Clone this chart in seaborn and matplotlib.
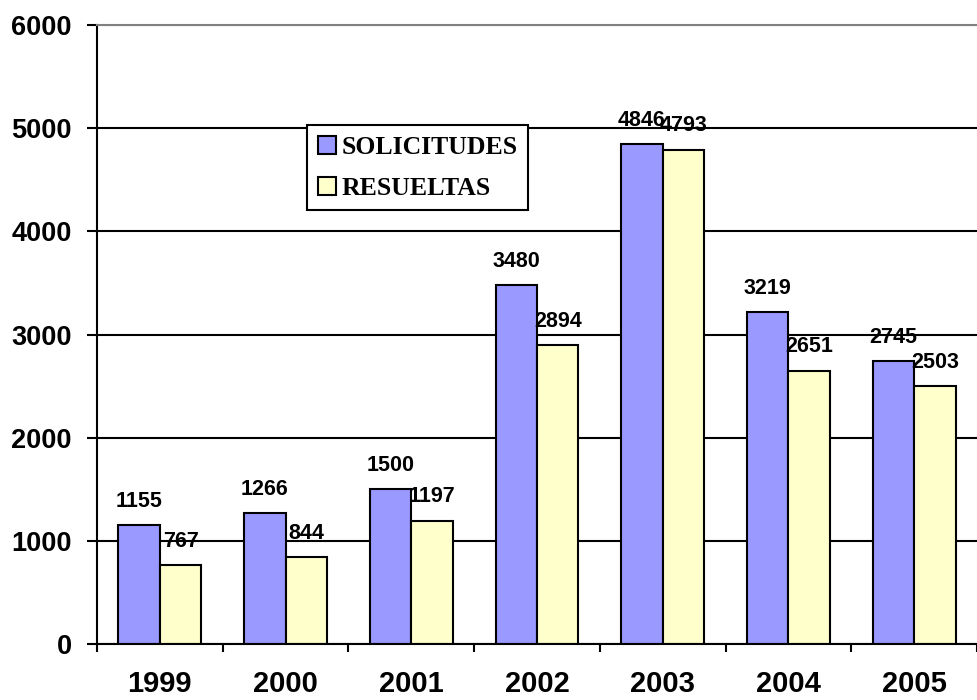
import pandas as pd
import seaborn as sns
import matplotlib
matplotlib.use("Agg")
import matplotlib.pyplot as plt
from matplotlib.font_manager import FontProperties

# datos
anios = ["1999", "2000", "2001", "2002", "2003", "2004", "2005"]
solicitudes = [1155, 1266, 1500, 3480, 4846, 3219, 2745]
resueltas = [767, 844, 1197, 2894, 4793, 2651, 2503]
series = ["SOLICITUDES", "RESUELTAS"]
colores = ["#9999FF", "#FFFFCC"]

df = pd.DataFrame({
    "anio": anios * 2,
    "valor": solicitudes + resueltas,
    "serie": [series[0]] * len(anios) + [series[1]] * len(anios),
})

sns.set_style("white")
plt.rcParams["font.family"] = ["Liberation Sans", "DejaVu Sans"]
plt.rcParams["text.color"] = "black"

fig = plt.figure(figsize=(9.77, 7.0), dpi=100)
ax = fig.add_axes([97 / 977, 56 / 700, 1 - 97 / 977, 619 / 700])

sns.barplot(
    data=df, x="anio", y="valor", hue="serie",
    order=anios, hue_order=series, palette=colores,
    width=0.66, gap=0, edgecolor="black", linewidth=1.5,
    saturation=1, ax=ax,
)

# etiquetas de datos
for cont in ax.containers:
    for bar in cont:
        h = bar.get_height()
        ax.annotate(f"{int(h)}", (bar.get_x() + bar.get_width() / 2, h),
                    xytext=(0, 17), textcoords="offset points",
                    ha="center", va="center", fontsize=15.5,
                    fontweight="bold", color="black")

# ejes
ax.set_ylim(0, 6000)
ax.set_xlim(-0.5, 6.43)
ax.set_yticks(range(0, 7000, 1000))
ax.yaxis.grid(True, color="black", linewidth=1.5)
ax.get_ygridlines()[-1].set_color("grey")
ax.set_axisbelow(True)

for s in ["left", "bottom"]:
    ax.spines[s].set_color("black")
    ax.spines[s].set_linewidth(1.5)
ax.spines["top"].set_color("grey")
ax.spines["top"].set_linewidth(1.5)
ax.spines["right"].set_visible(False)

ax.set_xticks([i - 0.5 for i in range(8)], minor=True)
ax.tick_params(axis="x", which="minor", bottom=True, length=6, width=1.5,
               color="black", direction="out")
ax.tick_params(axis="x", which="major", bottom=True, length=0, pad=19,
               labelsize=21, labelcolor="black")
ax.tick_params(axis="y", left=True, length=7, width=1.5, color="black",
               direction="out", pad=11, labelsize=19.5, labelcolor="black")
for lab in ax.get_xticklabels() + ax.get_yticklabels():
    lab.set_fontweight("bold")

ax.set_xlabel("")
ax.set_ylabel("")

# leyenda
leg = ax.legend(
    loc="upper left", bbox_to_anchor=(0.239, 0.838),
    prop=FontProperties(family="Liberation Serif", weight="bold", size=18.5),
    frameon=True, fancybox=False, edgecolor="black", framealpha=1,
    handlelength=0.7, handleheight=0.7, handletextpad=0.25,
    borderpad=0.4, labelspacing=0.72, borderaxespad=0, labelcolor="black",
)
leg.get_frame().set_linewidth(1.5)

fig.savefig("out.png", dpi=100)
